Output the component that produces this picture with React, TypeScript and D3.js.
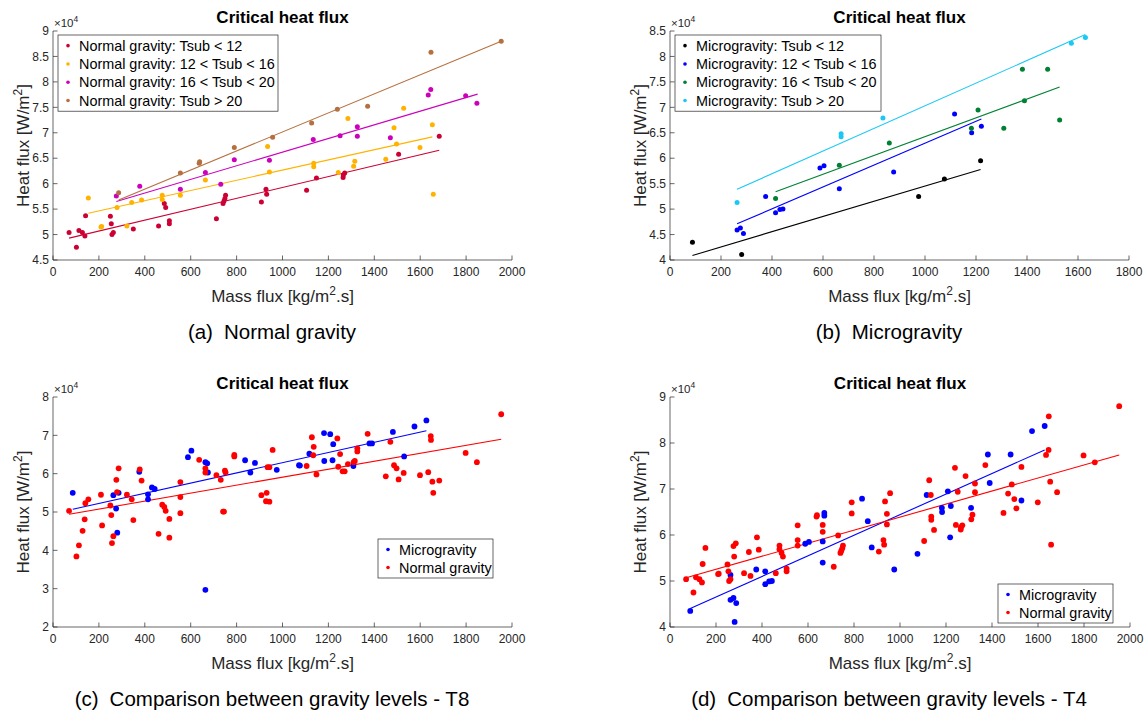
import React from 'react';
import * as d3 from 'd3';

type P = [number, number];

// ---------- Panel (a): Normal gravity (mass flux, CHF x1e4) ----------
const ngT12: P[] = [[70,5.04],[102,4.75],[113,5.08],[128,5.04],[139,4.97],[142,5.37],[250,5.36],[254,5.21],[257,5.00],[263,5.04],[350,5.11],[460,5.17],[485,5.61],[491,5.53],[507,5.27],[507,5.21],[712,5.31],[741,5.61],[745,5.66],[749,5.71],[752,5.77],[908,5.64],[928,5.89],[931,5.79],[1105,5.87],[1148,6.11],[1264,6.12],[1265,6.17],[1271,6.21],[1506,6.58],[1683,6.93]];
const ngT16: P[] = [[154,5.72],[209,5.15],[212,5.16],[279,5.53],[322,5.17],[343,5.63],[386,5.68],[476,5.77],[476,5.69],[555,5.77],[664,6.07],[935,6.73],[943,6.23],[1136,6.40],[1136,6.33],[1243,6.22],[1285,7.28],[1310,6.34],[1315,6.44],[1450,6.48],[1486,7.10],[1497,6.78],[1528,7.48],[1599,6.71],[1653,7.16],[1657,5.79]];
const ngT20: P[] = [[276,5.76],[378,5.95],[555,5.89],[664,6.22],[731,5.99],[790,6.47],[943,6.46],[1134,6.87],[1251,6.94],[1326,7.12],[1326,6.93],[1470,6.90],[1635,7.74],[1646,7.85],[1798,7.73],[1847,7.58]];
const ngT99: P[] = [[286,5.82],[555,6.21],[637,6.40],[639,6.43],[790,6.71],[957,6.91],[1127,7.19],[1239,7.46],[1371,7.52],[1647,8.58],[1953,8.80]];
const ngT12Fit: P[] = [[70,4.93],[1683,6.655]];
const ngT16Fit: P[] = [[154,5.42],[1653,6.92]];
const ngT20Fit: P[] = [[276,5.65],[1850,7.76]];
const ngT99Fit: P[] = [[286,5.68],[1953,8.80]];

// ---------- Panel (b): Microgravity ----------
const mgT12: P[] = [[88,4.35],[281,4.11],[975,5.25],[1076,5.59],[1218,5.95]];
const mgT16: P[] = [[263,4.59],[276,4.63],[288,4.52],[375,5.25],[414,4.93],[431,4.99],[443,5.00],[588,5.81],[604,5.85],[664,5.40],[877,5.73],[1116,6.87],[1183,6.50],[1221,6.63]];
const mgT20: P[] = [[414,5.21],[664,5.86],[860,6.30],[1182,6.59],[1208,6.95],[1309,6.59],[1382,7.75],[1390,7.13],[1481,7.75],[1528,6.75]];
const mgT99: P[] = [[263,5.13],[671,6.48],[671,6.42],[835,6.79],[1574,8.26],[1629,8.37]];
const mgT12Fit: P[] = [[88,4.09],[1218,5.78]];
const mgT16Fit: P[] = [[263,4.71],[1221,6.77]];
const mgT20Fit: P[] = [[414,5.34],[1528,7.40]];
const mgT99Fit: P[] = [[263,5.39],[1629,8.43]];

// ---------- Panel (c): T8 comparison ----------
const t8Normal: P[] = [[70,5.03],[102,3.84],[113,4.13],[129,4.51],[138,4.81],[141,5.23],[154,5.33],[209,5.45],[214,4.65],[250,5.17],[254,4.92],[257,4.19],[263,4.37],[276,5.84],[279,5.52],[286,6.14],[322,5.45],[343,5.33],[350,4.79],[378,6.11],[386,5.82],[460,4.43],[476,5.19],[485,5.13],[491,5.03],[507,4.82],[507,4.33],[555,5.78],[555,5.39],[555,4.97],[637,6.36],[664,6.14],[664,6.03],[712,5.96],[731,5.84],[741,5.01],[745,5.01],[749,6.08],[752,6.03],[790,6.49],[790,6.45],[908,5.44],[928,5.28],[931,5.50],[935,6.17],[943,6.17],[943,5.27],[957,6.62],[1105,6.20],[1128,6.95],[1134,6.48],[1136,6.70],[1148,5.98],[1239,6.92],[1243,6.18],[1251,6.51],[1262,6.06],[1271,6.06],[1285,6.25],[1310,6.30],[1315,6.33],[1326,6.66],[1326,6.58],[1371,7.04],[1450,5.93],[1470,6.83],[1486,6.22],[1497,6.14],[1506,5.85],[1528,6.02],[1599,5.96],[1635,6.04],[1646,6.98],[1647,6.88],[1653,5.79],[1657,5.50],[1683,5.82],[1798,6.54],[1847,6.30],[1953,7.55]];
const t8Micro: P[] = [[86,5.50],[263,5.44],[275,5.09],[280,4.46],[286,5.50],[376,6.05],[414,5.46],[414,5.33],[431,5.64],[443,5.60],[588,6.43],[603,6.60],[664,6.30],[664,2.97],[672,6.27],[675,6.03],[837,6.35],[860,6.03],[880,6.28],[975,6.10],[1072,6.22],[1076,6.21],[1117,6.52],[1181,7.06],[1182,6.33],[1208,7.03],[1218,6.35],[1221,6.77],[1309,6.20],[1379,6.79],[1390,6.79],[1481,7.09],[1530,6.45],[1575,7.23],[1627,7.39]];
const t8MicroFit: P[] = [[86,5.07],[1627,7.12]];
const t8NormalFit: P[] = [[70,4.94],[1953,6.90]];

// ---------- Panel (d): T4 comparison ----------
const t4Micro: P[] = [...mgT12, ...mgT16, ...mgT20, ...mgT99];
const t4Normal: P[] = [...ngT12, ...ngT16, ...ngT20, ...ngT99];
const t4MicroFit: P[] = [[88,4.40],[1629,7.85]];
const t4NormalFit: P[] = [[70,5.07],[1953,7.74]];

const ticks2000 = d3.range(0, 2001, 200);
const ticks1800 = d3.range(0, 1801, 200);

const FONT = '"Liberation Sans", Arial, Helvetica, sans-serif';
const AX = '#262626';

interface Series { data: P[]; color: string; label: string; fit: P[]; }
interface PanelProps {
  left: number; right: number; top: number; bottom: number;
  xMax: number; xTicks: number[];
  yMin: number; yMax: number; yTicks: number[];
  series: Series[]; r: number;
  legend: { x: number; y: number; w: number; rowH: number; pad: number };
  caption: [string, string]; captionX: number;
}

function Panel(p: PanelProps) {
  const x = d3.scaleLinear().domain([0, p.xMax]).range([p.left, p.right]);
  const y = d3.scaleLinear().domain([p.yMin, p.yMax]).range([p.bottom, p.top]);
  const line = d3.line<P>().x(d => x(d[0])).y(d => y(d[1]));
  const cx = (p.left + p.right) / 2;
  const cy = (p.top + p.bottom) / 2;
  const tl = 4.5;
  const fmt = (v: number) => String(Math.round(v * 10) / 10);
  const lg = p.legend;
  const lgH = p.series.length * lg.rowH + lg.pad * 2;
  return (
    <g>
      <text x={cx} y={p.top - 8} textAnchor="middle" fontFamily={FONT} fontWeight="bold" fontSize={17} fill="#000">Critical heat flux</text>
      {p.series.map((s, i) => (
        <path key={'f' + i} d={line(s.fit) || ''} stroke={s.color} strokeWidth={1.1} fill="none" />
      ))}
      {p.series.map((s, i) => (
        <g key={'s' + i}>
          {s.data.map((d, j) => (
            <circle key={j} cx={x(d[0])} cy={y(d[1])} r={p.r} fill={s.color} />
          ))}
        </g>
      ))}
      {/* axes */}
      <line x1={p.left} x2={p.left} y1={p.top} y2={p.bottom} stroke={AX} strokeWidth={0.7} />
      <line x1={p.left} x2={p.right} y1={p.bottom} y2={p.bottom} stroke={AX} strokeWidth={0.7} />
      {p.xTicks.map(t => (
        <g key={'xt' + t}>
          <line x1={x(t)} x2={x(t)} y1={p.bottom} y2={p.bottom - tl} stroke={AX} strokeWidth={0.7} />
          <text x={x(t)} y={p.bottom + 16} textAnchor="middle" fontFamily={FONT} fontSize={12} fill={AX}>{t}</text>
        </g>
      ))}
      {p.yTicks.map(t => (
        <g key={'yt' + t}>
          <line x1={p.left} x2={p.left + tl} y1={y(t)} y2={y(t)} stroke={AX} strokeWidth={0.7} />
          <text x={p.left - 4} y={y(t) + 4.2} textAnchor="end" fontFamily={FONT} fontSize={12} fill={AX}>{fmt(t)}</text>
        </g>
      ))}
      <text x={p.left + 1} y={p.top - 4} fontFamily={FONT} fontSize={11.5} fill={AX}>
        ×10<tspan fontSize={8.5} dy={-5}>4</tspan>
      </text>
      <text x={cx} y={p.bottom + 42} textAnchor="middle" fontFamily={FONT} fontSize={17} fill={AX}>
        Mass flux [kg/m<tspan fontSize={12} dy={-7}>2</tspan><tspan dy={7}>.s]</tspan>
      </text>
      <text transform={`translate(${p.left - 24.5},${cy}) rotate(-90)`} textAnchor="middle" fontFamily={FONT} fontSize={17} fill={AX}>
        Heat flux [W/m<tspan fontSize={12} dy={-7}>2</tspan><tspan dy={7}>]</tspan>
      </text>
      {/* legend */}
      <rect x={lg.x} y={lg.y} width={lg.w} height={lgH} fill="#fff" stroke={AX} strokeWidth={0.7} />
      {p.series.map((s, i) => {
        const yy = lg.y + lg.pad + lg.rowH * (i + 0.5);
        return (
          <g key={'l' + i}>
            <circle cx={lg.x + 10} cy={yy} r={1.8} fill={s.color} />
            <text x={lg.x + 21} y={yy + 5} fontFamily={FONT} fontSize={14.4} fill="#000">{s.label}</text>
          </g>
        );
      })}
      <text x={p.captionX} y={p.bottom + 79} textAnchor="middle" fontFamily={FONT} fontSize={20.5} fill="#000">
        {p.caption[0]}<tspan dx={11}>{p.caption[1]}</tspan>
      </text>
    </g>
  );
}

export default function App() {
  return (
    <svg width={1148} height={713} style={{ position: 'absolute', left: 0, top: 0, background: '#fff' }}>
      <rect width={1148} height={713} fill="#fff" />
      <Panel left={53} right={512} top={31} bottom={260} xMax={2000} xTicks={ticks2000}
        yMin={4.5} yMax={9} yTicks={d3.range(4.5, 9.01, 0.5)} r={2.5}
        series={[
          { data: ngT12, color: '#CC0033', label: 'Normal gravity: Tsub < 12', fit: ngT12Fit },
          { data: ngT16, color: '#FFB300', label: 'Normal gravity: 12 < Tsub < 16', fit: ngT16Fit },
          { data: ngT20, color: '#CC00BB', label: 'Normal gravity: 16 < Tsub < 20', fit: ngT20Fit },
          { data: ngT99, color: '#B5703F', label: 'Normal gravity: Tsub > 20', fit: ngT99Fit },
        ]}
        legend={{ x: 58, y: 35, w: 220, rowH: 18.3, pad: 1.5 }}
        caption={['(a)', 'Normal gravity']} captionX={272} />
      <Panel left={670} right={1129} top={31} bottom={260} xMax={1800} xTicks={ticks1800}
        yMin={4} yMax={8.5} yTicks={d3.range(4, 8.51, 0.5)} r={2.5}
        series={[
          { data: mgT12, color: '#000000', label: 'Microgravity: Tsub < 12', fit: mgT12Fit },
          { data: mgT16, color: '#0000FF', label: 'Microgravity: 12 < Tsub < 16', fit: mgT16Fit },
          { data: mgT20, color: '#008033', label: 'Microgravity: 16 < Tsub < 20', fit: mgT20Fit },
          { data: mgT99, color: '#1AC8F5', label: 'Microgravity: Tsub > 20', fit: mgT99Fit },
        ]}
        legend={{ x: 675, y: 35, w: 206, rowH: 18.3, pad: 1.5 }}
        caption={['(b)', 'Microgravity']} captionX={889} />
      <Panel left={53} right={512} top={397} bottom={627} xMax={2000} xTicks={ticks2000}
        yMin={2} yMax={8} yTicks={d3.range(2, 8.01, 1)} r={2.9}
        series={[
          { data: t8Micro, color: '#0000FF', label: 'Microgravity', fit: t8MicroFit },
          { data: t8Normal, color: '#FF0000', label: 'Normal gravity', fit: t8NormalFit },
        ]}
        legend={{ x: 378, y: 539, w: 115, rowH: 18, pad: 1.5 }}
        caption={['(c)', 'Comparison between gravity levels - T8']} captionX={272} />
      <Panel left={670} right={1130} top={397} bottom={627} xMax={2000} xTicks={ticks2000}
        yMin={4} yMax={9} yTicks={d3.range(4, 9.01, 1)} r={2.9}
        series={[
          { data: t4Micro, color: '#0000FF', label: 'Microgravity', fit: t4MicroFit },
          { data: t4Normal, color: '#FF0000', label: 'Normal gravity', fit: t4NormalFit },
        ]}
        legend={{ x: 998, y: 584, w: 115, rowH: 18, pad: 1.5 }}
        caption={['(d)', 'Comparison between gravity levels - T4']} captionX={889} />
    </svg>
  );
}
